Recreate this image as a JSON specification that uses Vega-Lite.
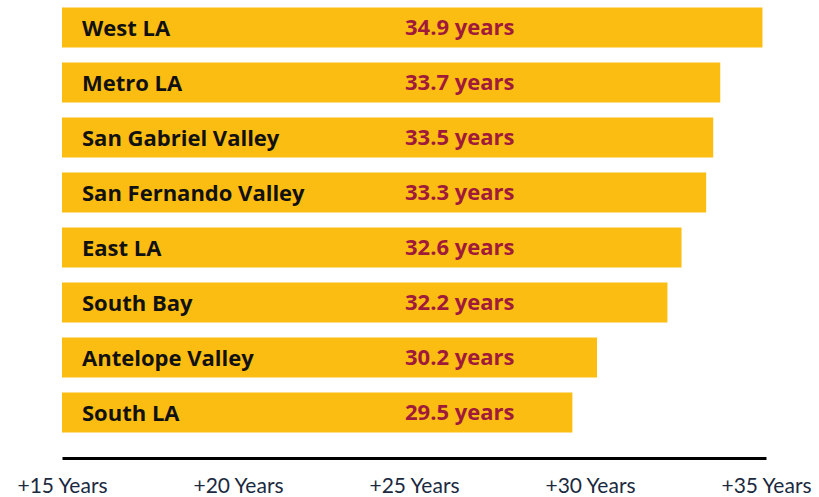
{
  "$schema": "https://vega.github.io/schema/vega-lite/v6.json",
  "width": 704,
  "height": 440,
  "autosize": {"type": "none"},
  "padding": {"left": 62, "top": 0, "right": 53, "bottom": 57},
  "background": "white",
  "config": {"view": {"stroke": null}},
  "data": {
    "values": [
      {"region": "West LA", "years": 34.9},
      {"region": "Metro LA", "years": 33.7},
      {"region": "San Gabriel Valley", "years": 33.5},
      {"region": "San Fernando Valley", "years": 33.3},
      {"region": "East LA", "years": 32.6},
      {"region": "South Bay", "years": 32.2},
      {"region": "Antelope Valley", "years": 30.2},
      {"region": "South LA", "years": 29.5}
    ]
  },
  "encoding": {
    "y": {
      "field": "region",
      "type": "nominal",
      "sort": null,
      "axis": null,
      "scale": {"paddingInner": 0.27, "paddingOuter": 0.135}
    }
  },
  "layer": [
    {
      "mark": {"type": "bar", "color": "#FCBD12"},
      "encoding": {
        "x": {
          "field": "years",
          "type": "quantitative",
          "scale": {"domain": [15, 35], "zero": false, "nice": false},
          "axis": {
            "values": [15, 20, 25, 30, 35],
            "labelExpr": "'+' + datum.value + ' Years'",
            "title": null,
            "grid": false,
            "ticks": false,
            "offset": 18,
            "domainColor": "#000000",
            "domainWidth": 3,
            "labelFont": "Lato",
            "labelFontSize": 21,
            "labelColor": "#1b2a3f",
            "labelPadding": 17,
            "labelFlush": false
          }
        },
        "x2": {"datum": 15}
      }
    },
    {
      "mark": {"type": "text", "align": "left", "baseline": "middle", "dx": 20, "dy": 1, "font": "Open Sans", "fontWeight": "bold", "fontSize": 22, "color": "#111111"},
      "encoding": {
        "x": {"datum": 15, "type": "quantitative"},
        "text": {"field": "region"}
      }
    },
    {
      "transform": [{"calculate": "format(datum.years, '.1f') + ' years'", "as": "label"}],
      "mark": {"type": "text", "align": "center", "baseline": "middle", "font": "Open Sans", "fontWeight": "bold", "fontSize": 22, "color": "#A01A3A"},
      "encoding": {
        "x": {"datum": 26.3, "type": "quantitative"},
        "text": {"field": "label"}
      }
    }
  ]
}
